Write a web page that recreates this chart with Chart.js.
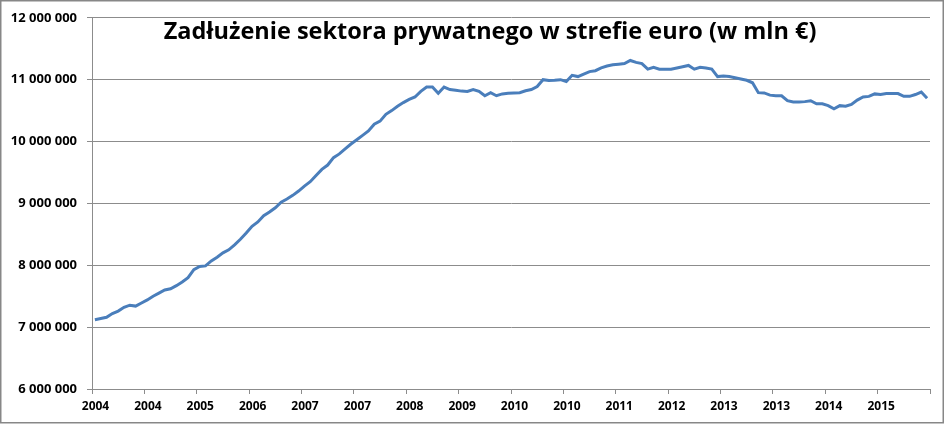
<!DOCTYPE html>
<html>
<head>
<meta charset="utf-8">
<script src="https://cdn.jsdelivr.net/npm/chart.js@4.4.1/dist/chart.umd.min.js"></script>
<style>
  html, body { margin: 0; padding: 0; background: #fff; }
  #wrap { width: 945px; height: 424px; position: relative; }
</style>
</head>
<body>
<div id="wrap"><canvas id="c" width="945" height="424"></canvas></div>
<script>
const chartTitle = "Zadłużenie sektora prywatnego w strefie euro (w mln €)";

// Tick labels shown under every 9th month (first at Jan 2004)
const xTickLabels = ["2004","2004","2005","2006","2007","2007","2008","2009",
                     "2010","2010","2011","2012","2013","2013","2014","2015"];
const monthsPerTick = 9;

// Monthly values Jan 2004 – Dec 2015 (mln €)
const debt2004 = [7120000,7140000,7160000,7220000,7260000,7320000,7355000,7340000,7390000,7440000,7500000,7550000];
const debt2005 = [7600000,7620000,7670000,7730000,7800000,7930000,7980000,7990000,8070000,8130000,8200000,8250000];
const debt2006 = [8330000,8420000,8520000,8630000,8700000,8800000,8860000,8930000,9020000,9070000,9130000,9200000];
const debt2007 = [9280000,9350000,9450000,9550000,9620000,9740000,9800000,9880000,9960000,10030000,10100000,10170000];
const debt2008 = [10280000,10330000,10440000,10500000,10570000,10630000,10680000,10720000,10810000,10880000,10880000,10780000];
const debt2009 = [10880000,10840000,10830000,10815000,10810000,10840000,10810000,10740000,10790000,10740000,10770000,10780000];
const debt2010 = [10785000,10790000,10820000,10840000,10890000,11000000,10985000,10990000,11000000,10970000,11070000,11050000];
const debt2011 = [11090000,11130000,11145000,11190000,11220000,11240000,11250000,11260000,11310000,11280000,11260000,11170000];
const debt2012 = [11200000,11170000,11170000,11170000,11190000,11210000,11230000,11170000,11200000,11190000,11170000,11050000];
const debt2013 = [11060000,11050000,11030000,11010000,10990000,10950000,10790000,10785000,10750000,10740000,10740000,10660000];
const debt2014 = [10640000,10640000,10645000,10660000,10610000,10610000,10580000,10530000,10580000,10570000,10600000,10670000];
const debt2015 = [10720000,10730000,10770000,10760000,10775000,10775000,10775000,10730000,10730000,10760000,10800000,10700000];

const values = [].concat(debt2004, debt2005, debt2006, debt2007, debt2008, debt2009,
                         debt2010, debt2011, debt2012, debt2013, debt2014, debt2015);

const yMin = 6000000, yMax = 12000000, yStep = 1000000;

const points = values.map((v, i) => ({ x: i + 0.5, y: v }));

const fmt = v => String(v).replace(/\B(?=(\d{3})+(?!\d))/g, ' ');

const decor = {
  id: 'decor',
  afterDraw(chart) {
    const ctx = chart.ctx;
    ctx.save();
    ctx.strokeStyle = '#878787';
    ctx.lineWidth = 1.5;
    ctx.strokeRect(0.75, 0.75, 942.5, 422);
    ctx.fillStyle = '#000';
    ctx.font = 'bold 23.5px "Open Sans"';
    ctx.textAlign = 'center';
    ctx.textBaseline = 'alphabetic';
    ctx.fillText(chartTitle, 490, 38.5);
    ctx.restore();
  }
};

new Chart(document.getElementById('c'), {
  type: 'line',
  data: {
    datasets: [{
      data: points,
      borderColor: '#4a7ebb',
      borderWidth: 3,
      pointRadius: 0,
      pointHoverRadius: 0,
      tension: 0,
      fill: false
    }]
  },
  options: {
    responsive: false,
    animation: false,
    devicePixelRatio: 1,
    layout: { padding: { left: 0, right: 15, top: 16, bottom: 0 } },
    plugins: { legend: { display: false }, tooltip: { enabled: false }, title: { display: false } },
    scales: {
      x: {
        type: 'linear',
        min: 0,
        max: values.length,
        afterBuildTicks: s => {
          const t = [];
          for (let v = 0; v <= values.length; v += monthsPerTick) t.push({ value: v });
          s.ticks = t;
        },
        afterFit: s => { s.height = 35; },
        border: { display: true, color: '#8c8c8c', width: 1 },
        grid: { drawOnChartArea: false, drawTicks: true, tickLength: 5, color: '#8c8c8c' },
        ticks: {
          autoSkip: false,
          maxRotation: 0,
          padding: 5,
          labelOffset: 3.5,
          color: '#000',
          font: { family: 'Open Sans', weight: 'bold', size: 12 },
          callback: v => xTickLabels[v / monthsPerTick] || ''
        }
      },
      y: {
        min: yMin,
        max: yMax,
        afterFit: s => { s.width = 92; },
        border: { display: true, color: '#8c8c8c', width: 1 },
        grid: { drawOnChartArea: true, drawTicks: true, tickLength: 5, color: '#8c8c8c' },
        ticks: {
          stepSize: yStep,
          padding: 10,
          color: '#000',
          font: { family: 'Open Sans', weight: 'bold', size: 13 },
          callback: v => fmt(v)
        }
      }
    }
  },
  plugins: [decor]
});
</script>
</body>
</html>
